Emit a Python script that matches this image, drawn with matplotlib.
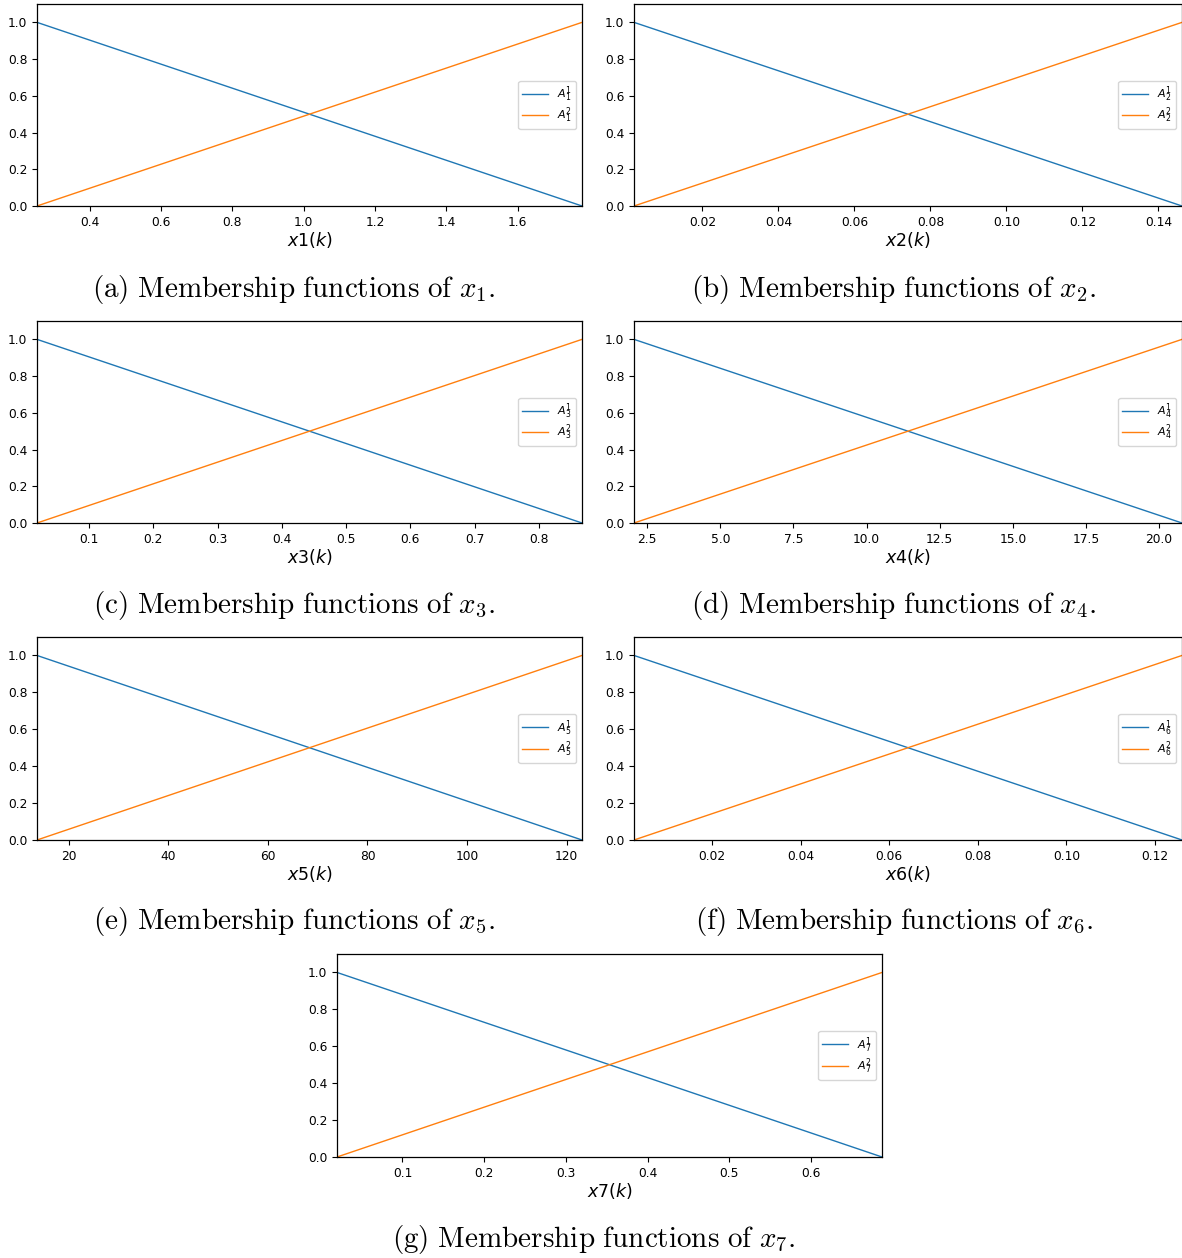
import matplotlib
matplotlib.use("Agg")
import matplotlib.pyplot as plt

plt.rcParams['mathtext.fontset'] = 'dejavusans'

# endpoints of the universe of discourse for each input x1..x7
x_min = [0.252, 0.002, 0.019, 2.05, 13.6, 0.0024, 0.0199]
x_max = [1.780, 0.1462, 0.867, 20.78, 123.1, 0.1261, 0.6867]
mf_low = [1.0, 0.0]   # A_i^1 at (x_min, x_max)
mf_high = [0.0, 1.0]  # A_i^2 at (x_min, x_max)
letters = ['a', 'b', 'c', 'd', 'e', 'f', 'g']

W, H = 1182, 1258
fig = plt.figure(figsize=(W / 100, H / 100), dpi=100)

# axes boxes in pixels: left, top, right, bottom
boxes = [(37, 4, 582, 206), (634, 4, 1182, 206),
         (37, 321, 582, 523), (634, 321, 1182, 523),
         (37, 637, 582, 840), (634, 637, 1182, 840),
         (337, 954, 882, 1157)]
caption_x = [294, 894, 294, 894, 294, 894, 594]
caption_y = [289, 289, 606, 606, 922, 922, 1240]

for i in range(7):
    l, t, r, b = boxes[i]
    ax = fig.add_axes([l / W, 1 - b / H, (r - l) / W, (b - t) / H])
    xs = [x_min[i], x_max[i]]
    ax.plot(xs, mf_low, color='#1f77b4', lw=1.0, label=r'$A_{%d}^{1}$' % (i + 1))
    ax.plot(xs, mf_high, color='#ff7f0e', lw=1.0, label=r'$A_{%d}^{2}$' % (i + 1))
    ax.set_xlim(x_min[i], x_max[i])
    ax.set_ylim(0, 1.1)
    ax.tick_params(labelsize=8.8, width=0.8, length=3.5)
    for s in ax.spines.values():
        s.set_linewidth(0.9)
    ax.set_xlabel(r'$x%d(k)$' % (i + 1), fontsize=12.5, labelpad=1)
    ax.legend(loc='center right', fontsize=8, handlelength=2.35,
              labelspacing=0.15, borderpad=0.35)
    fig.text(caption_x[i] / W, 1 - caption_y[i] / H,
             r'$\mathrm{(%s)\ Membership\ functions\ of\ }x_{%d}\mathrm{.}$' % (letters[i], i + 1),
             ha='center', va='center', fontsize=21,
             math_fontfamily='cm')

fig.savefig('out.png', dpi=100)
